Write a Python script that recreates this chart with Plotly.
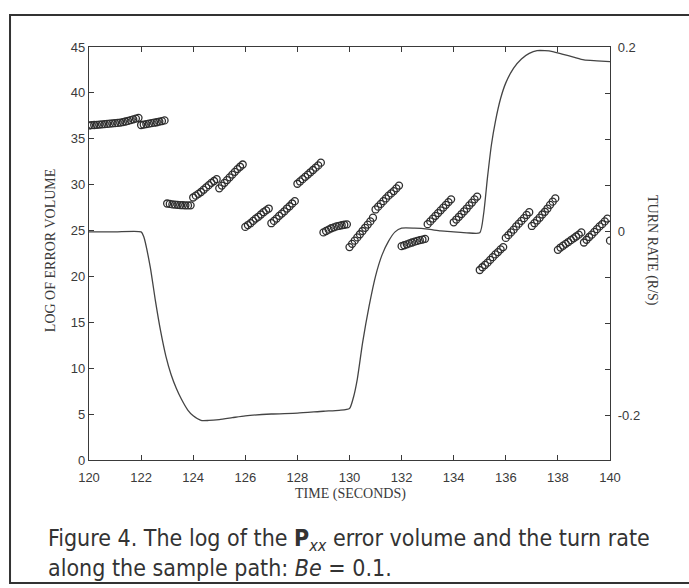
import plotly.graph_objects as go

# ---------------- data ----------------
# Log of error volume: sampled every 0.1 s, segments restart every second
seg_starts = [120, 122, 123, 124, 125, 126, 127, 128, 129, 130,
              131, 132, 133, 134, 135, 136, 137, 138, 139, 140]
log_err_segments = [
    [36.45, 36.48, 36.5, 36.52, 36.55, 36.57, 36.6, 36.62, 36.65, 36.68,
     36.7, 36.73, 36.77, 36.82, 36.88, 36.95, 37.03, 37.12, 37.2, 37.28],
    [36.5, 36.55, 36.6, 36.65, 36.7, 36.75, 36.8, 36.87, 36.93, 37.0],
    [27.95, 27.9, 27.85, 27.82, 27.8, 27.78, 27.76, 27.75, 27.74, 27.75],
    [28.6, 28.8, 29.0, 29.2, 29.45, 29.7, 29.95, 30.2, 30.4, 30.6],
    [29.6, 29.9, 30.2, 30.5, 30.8, 31.1, 31.4, 31.7, 31.95, 32.2],
    [25.4, 25.6, 25.8, 26.05, 26.3, 26.5, 26.75, 27.0, 27.2, 27.4],
    [25.8, 26.05, 26.3, 26.6, 26.85, 27.1, 27.4, 27.65, 27.95, 28.2],
    [30.1, 30.35, 30.6, 30.85, 31.1, 31.35, 31.6, 31.85, 32.1, 32.4],
    [24.8, 24.95, 25.1, 25.25, 25.35, 25.45, 25.52, 25.58, 25.63, 25.68],
    [23.2, 23.55, 23.9, 24.25, 24.6, 24.95, 25.3, 25.65, 26.0, 26.4],
    [27.3, 27.6, 27.9, 28.2, 28.5, 28.8, 29.05, 29.3, 29.6, 29.9],
    [23.3, 23.4, 23.5, 23.6, 23.7, 23.8, 23.87, 23.95, 24.02, 24.1],
    [25.7, 26.0, 26.3, 26.6, 26.9, 27.2, 27.5, 27.8, 28.1, 28.4],
    [25.9, 26.2, 26.5, 26.8, 27.1, 27.4, 27.75, 28.05, 28.4, 28.7],
    [20.7, 21.0, 21.25, 21.5, 21.8, 22.1, 22.4, 22.65, 22.95, 23.2],
    [24.2, 24.5, 24.8, 25.1, 25.45, 25.75, 26.05, 26.35, 26.7, 27.0],
    [25.5, 25.8, 26.1, 26.4, 26.75, 27.05, 27.4, 27.8, 28.15, 28.5],
    [22.9, 23.15, 23.35, 23.55, 23.75, 23.95, 24.15, 24.35, 24.55, 24.8],
    [23.7, 24.0, 24.3, 24.55, 24.85, 25.15, 25.45, 25.7, 26.0, 26.3],
    [23.9],
]
sample_dt = 0.1

# Turn rate (rad/s)
turn_time = [120, 121, 122, 122.1, 122.35, 122.55, 122.75, 122.95, 123.15, 123.35,
             123.55, 123.8, 124.0, 124.3, 124.6, 125.0, 125.5, 126, 127, 128,
             129, 129.6, 130.0, 130.15, 130.3, 130.5, 130.75, 131.0, 131.25, 131.5,
             131.75, 132.0, 132.5, 133.0, 133.5, 134.0, 134.5, 135.0, 135.15, 135.3,
             135.45, 135.6, 135.8, 136.0, 136.3, 136.6, 136.9, 137.2, 137.5, 137.8,
             138.2, 138.6, 139.0, 139.5, 140]
turn_rate = [0, 0, 0, -0.005, -0.038, -0.075, -0.108, -0.135, -0.155, -0.17,
             -0.182, -0.194, -0.2, -0.205, -0.205, -0.204, -0.202, -0.2, -0.198, -0.197,
             -0.195, -0.194, -0.192, -0.18, -0.16, -0.121, -0.081, -0.048, -0.025, -0.01,
             0.0, 0.004, 0.004, 0.003, 0.001, 0.0, -0.001, -0.001, 0.02, 0.06,
             0.095, 0.12, 0.145, 0.162, 0.178, 0.188, 0.194, 0.197, 0.197, 0.196,
             0.193, 0.19, 0.187, 0.186, 0.185]

x_ticks = [120, 122, 124, 126, 128, 130, 132, 134, 136, 138, 140]
y_ticks = [0, 5, 10, 15, 20, 25, 30, 35, 40, 45]
y2_tickvals = [-0.2, 0, 0.2]
y2_ticktext = ["-0.2", "0", "0.2"]
y2_minor_step = 0.05

# build marker coordinates from the segments
err_t, err_v = [], []
for t0, seg in zip(seg_starts, log_err_segments):
    for i, v in enumerate(seg):
        err_t.append(round(t0 + i * sample_dt, 2))
        err_v.append(v)

INK = "#3a3a3a"
fig = go.Figure()
fig.add_trace(go.Scatter(
    x=turn_time, y=turn_rate, yaxis="y2", mode="lines",
    line=dict(color="#444444", width=1.3, shape="spline", smoothing=0.6),
    showlegend=False, hoverinfo="skip"))
fig.add_trace(go.Scatter(
    x=err_t, y=err_v, mode="markers",
    marker=dict(symbol="circle-open", size=7, color="#2e2e2e", line=dict(width=1.3)),
    showlegend=False))

tickfont = dict(family="Liberation Sans, Arial, sans-serif", size=13, color=INK)
fig.update_layout(
    width=689, height=588,
    margin=dict(l=89, r=79, t=47, b=128),
    paper_bgcolor="white", plot_bgcolor="white",
    xaxis=dict(range=[120, 140], tickvals=x_ticks, ticks="inside", ticklen=5,
               tickcolor=INK, showline=True, linecolor=INK, linewidth=1.3,
               mirror="ticks", showgrid=False, zeroline=False, tickfont=tickfont,
               ticklabelstandoff=5),
    yaxis=dict(range=[0, 45], tickvals=y_ticks, ticks="inside", ticklen=5,
               tickcolor=INK, showline=True, linecolor=INK, linewidth=1.3,
               mirror=True, showgrid=False, zeroline=False, tickfont=tickfont),
    yaxis2=dict(range=[-0.248, 0.201], overlaying="y", side="right",
                tickvals=y2_tickvals, ticktext=y2_ticktext, ticks="inside", ticklen=5,
                minor=dict(dtick=y2_minor_step, tick0=0, ticks="inside", ticklen=5,
                           tickcolor=INK),
                tickcolor=INK, showline=True, linecolor=INK, linewidth=1.3,
                showgrid=False, zeroline=False, tickfont=tickfont,
                ticklabelstandoff=4),
)

serif = dict(family="Liberation Serif, Times New Roman, serif", size=14, color=INK)
fig.add_annotation(text="LOG OF ERROR VOLUME", xref="paper", yref="paper",
                   x=-0.0749, y=0.508, xanchor="center", yanchor="middle",
                   textangle=-90, showarrow=False, font=serif)
fig.add_annotation(text="TIME (SECONDS)", xref="paper", yref="paper",
                   x=0.501, y=-0.083, xanchor="center", yanchor="middle",
                   showarrow=False, font=serif)
fig.add_annotation(text="TURN RATE (R/S)", xref="paper", yref="paper",
                   x=1.0806, y=0.506, xanchor="center", yanchor="middle",
                   textangle=90, showarrow=False, font=serif)

cap_font = dict(family="Liberation Sans Narrow, DejaVu Sans Condensed, sans-serif",
                size=23, color="#333333")
caption = ("Figure 4. The log of the <b>P</b><sub><i>xx</i></sub> error volume and the turn rate<br>"
           "along the sample path: <i>Be</i> = 0.1.")
fig.add_annotation(text=caption, xref="paper", yref="paper", x=-0.0825, y=-0.225,
                   xanchor="left", yanchor="middle", align="left", showarrow=False,
                   font=cap_font)

# figure frame (right side runs off the page)
fig.add_shape(type="rect", xref="paper", yref="paper",
              x0=-0.1516, x1=1.17, y0=-0.2978, y1=1.0775,
              line=dict(color="#333333", width=2), fillcolor="rgba(0,0,0,0)", layer="below")

fig.write_html("out.html")
